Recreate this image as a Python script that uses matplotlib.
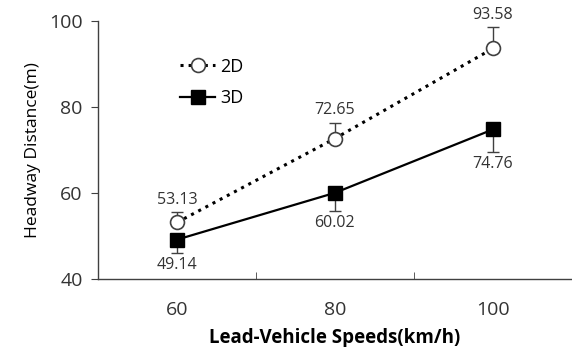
import matplotlib.pyplot as plt

speeds = ['60', '80', '100']
mean_2d = [53.13, 72.65, 93.58]
err_2d = [2.5, 3.7, 4.9]
mean_3d = [49.14, 60.02, 74.76]
err_3d = [3.0, 4.2, 5.3]

plt.rcParams['font.family'] = ['Open Sans', 'DejaVu Sans']
grey = '#404040'

fig = plt.figure(figsize=(5.72, 3.47), dpi=100)
ax = fig.add_axes([0.171, 0.196, 0.829, 0.744])

x = list(range(len(speeds)))

# 2D: dotted line, open circles, upper error bars
ax.errorbar(x, mean_2d, yerr=[[0] * 3, err_2d], fmt='none', ecolor=grey,
            elinewidth=1, capsize=4, capthick=1, zorder=2)
ax.plot(x, mean_2d, linestyle=':', linewidth=2.2, color='black', marker='o',
        markersize=10, markerfacecolor='white', markeredgecolor=grey,
        markeredgewidth=1.2, label='2D', zorder=3)

# 3D: solid line, filled squares, lower error bars
ax.errorbar(x, mean_3d, yerr=[err_3d, [0] * 3], fmt='none', ecolor=grey,
            elinewidth=1, capsize=4, capthick=1, zorder=2)
ax.plot(x, mean_3d, linestyle='-', linewidth=1.6, color='black', marker='s',
        markersize=10, markerfacecolor='black', markeredgecolor='black',
        label='3D', zorder=3)

# value labels
for i in x:
    ax.annotate(f'{mean_2d[i]:.2f}', (i, mean_2d[i] + err_2d[i]), xytext=(0, 3),
                textcoords='offset points', ha='center', va='bottom',
                fontsize=11.5, color='#333333')
    ax.annotate(f'{mean_3d[i]:.2f}', (i, mean_3d[i] - err_3d[i]), xytext=(0, -3),
                textcoords='offset points', ha='center', va='top',
                fontsize=11.5, color='#333333')

ax.set_xlim(-0.5, 2.5)
ax.set_ylim(40, 100)
ax.set_yticks([40, 60, 80, 100])
ax.set_xticks(x)
ax.set_xticklabels(speeds)
ax.set_xticks([0.5, 1.5], minor=True)
ax.tick_params(axis='x', which='major', length=0, pad=16, labelsize=14, labelcolor='#333333')
ax.tick_params(axis='x', which='minor', direction='in', length=5, color=grey)
ax.tick_params(axis='y', direction='out', length=5, color=grey, labelsize=14,
               labelcolor='#333333', pad=6)

for s in ['top', 'right']:
    ax.spines[s].set_visible(False)
for s in ['left', 'bottom']:
    ax.spines[s].set_color(grey)
    ax.spines[s].set_linewidth(1)

ax.set_xlabel('Lead-Vehicle Speeds(km/h)', fontsize=13.5, fontweight='bold', labelpad=6)
ax.set_ylabel('Headway Distance(m)', fontsize=12.5, labelpad=6)

ax.legend(loc='upper left', bbox_to_anchor=(0.14, 0.92), frameon=False, fontsize=13,
          handlelength=1.9, handletextpad=0.3, labelspacing=0.75)

plt.savefig('out.png', dpi=100)
